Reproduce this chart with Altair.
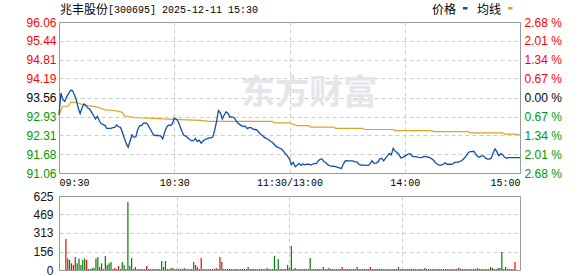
import altair as alt
import pandas as pd

# ---------------- data ----------------
minutes = list(range(241))
price = [
    92.98, 93.71, 93.49, 93.43, 93.59, 93.69, 93.80, 93.79, 93.65, 93.49,
    93.21, 93.03, 93.21, 93.35, 93.29, 93.21, 93.17, 93.07, 92.96, 92.85,
    92.94, 92.79, 92.69, 92.67, 92.63, 92.53, 92.54, 92.54, 92.56, 92.57,
    92.65, 92.59, 92.57, 92.41, 92.21, 92.04, 91.91, 92.12, 92.32, 92.24,
    92.26, 92.50, 92.63, 92.63, 92.71, 92.72, 92.69, 92.57, 92.46, 92.34,
    92.30, 92.31, 92.30, 92.28, 92.19, 92.41, 92.57, 92.65, 92.63, 92.69,
    92.87, 92.85, 92.77, 92.61, 92.44, 92.31, 92.28, 92.23, 92.17, 92.13,
    92.13, 92.20, 92.10, 92.15, 92.05, 92.12, 92.17, 92.19, 92.22, 92.22,
    92.25, 92.46, 92.76, 93.13, 93.05, 92.85, 92.98, 93.09, 93.03, 92.91,
    92.92, 92.90, 92.81, 92.72, 92.67, 92.63, 92.60, 92.61, 92.53, 92.56,
    92.56, 92.51, 92.50, 92.49, 92.41, 92.34, 92.29, 92.24, 92.20, 92.17,
    92.11, 92.08, 92.01, 91.94, 91.91, 91.88, 91.85, 91.77, 91.69, 91.62,
    91.52, 91.34, 91.41, 91.27, 91.32, 91.38, 91.31, 91.36, 91.33, 91.35,
    91.35, 91.32, 91.35, 91.38, 91.37, 91.46, 91.52, 91.52, 91.43, 91.40,
    91.33, 91.30, 91.28, 91.29, 91.27, 91.25, 91.23, 91.21, 91.35, 91.46,
    91.47, 91.46, 91.46, 91.46, 91.43, 91.43, 91.36, 91.32, 91.32, 91.32,
    91.31, 91.31, 91.37, 91.47, 91.38, 91.39, 91.42, 91.52, 91.55, 91.46,
    91.55, 91.63, 91.71, 91.66, 91.88, 91.78, 91.74, 91.67, 91.56, 91.58,
    91.62, 91.66, 91.69, 91.69, 91.61, 91.60, 91.60, 91.58, 91.57, 91.58,
    91.61, 91.60, 91.59, 91.57, 91.53, 91.48, 91.40, 91.35, 91.32, 91.32,
    91.35, 91.40, 91.35, 91.35, 91.35, 91.36, 91.41, 91.42, 91.42, 91.45,
    91.49, 91.55, 91.63, 91.73, 91.77, 91.77, 91.78, 91.68, 91.61, 91.58,
    91.63, 91.63, 91.56, 91.52, 91.52, 91.55, 91.72, 91.86, 91.76, 91.63,
    91.70, 91.66, 91.58, 91.55, 91.57, 91.57, 91.57, 91.57, 91.57, 91.57,
    91.57,
]
avg_t = [0, 1, 2, 5, 6, 9, 10, 12, 15, 19, 21, 24, 29, 33, 34, 36, 40, 50, 54,
         63, 74, 78, 111, 112, 120, 121, 124, 130, 131, 143, 144, 158, 159,
         174, 175, 194, 195, 213, 214, 231, 232, 238, 239, 240]
avg_v = [92.98, 93.13, 93.27, 93.27, 93.40, 93.40, 93.37, 93.33, 93.29, 93.26,
         93.22, 93.15, 93.13, 93.07, 92.96, 92.93, 92.89, 92.87, 92.85, 92.83,
         92.80, 92.77, 92.77, 92.72, 92.72, 92.69, 92.63, 92.63, 92.58, 92.58,
         92.54, 92.54, 92.50, 92.50, 92.46, 92.46, 92.43, 92.43, 92.39, 92.39,
         92.35, 92.35, 92.32, 92.32]
volume = [
    0, 262, 97, 85, 56, 42, 110, 56, 97, 42,
    85, 97, 85, 8, 8, 17, 17, 97, 110, 25,
    56, 8, 118, 42, 56, 68, 8, 17, 8, 34,
    8, 68, 42, 8, 575, 34, 101, 8, 25, 8,
    8, 8, 8, 8, 34, 8, 8, 8, 8, 8,
    8, 8, 76, 25, 76, 8, 8, 17, 17, 8,
    8, 8, 8, 8, 17, 8, 8, 8, 8, 68,
    42, 25, 8, 101, 8, 8, 8, 8, 8, 8,
    8, 17, 8, 110, 68, 8, 8, 8, 8, 8,
    8, 8, 8, 8, 8, 8, 8, 8, 25, 8,
    8, 8, 8, 8, 8, 8, 8, 8, 17, 8,
    8, 8, 118, 8, 93, 8, 8, 8, 8, 42,
    17, 203, 8, 17, 8, 8, 8, 8, 8, 8,
    8, 101, 8, 8, 8, 8, 8, 8, 25, 8,
    8, 17, 8, 8, 8, 8, 8, 8, 25, 8,
    8, 8, 8, 8, 8, 8, 25, 8, 8, 8,
    8, 8, 8, 25, 8, 8, 8, 8, 8, 8,
    8, 8, 8, 8, 8, 8, 8, 8, 25, 8,
    8, 8, 8, 8, 8, 8, 8, 8, 8, 8,
    8, 8, 17, 8, 8, 8, 8, 8, 8, 8,
    8, 8, 8, 8, 8, 8, 8, 8, 8, 8,
    17, 8, 8, 8, 8, 8, 8, 8, 8, 8,
    17, 8, 8, 8, 8, 8, 8, 25, 17, 8,
    8, 17, 17, 152, 8, 25, 8, 8, 8, 8,
    68,
]
price_ticks = [91.06, 91.68, 92.31, 92.93, 93.56, 94.19, 94.81, 95.44, 96.06]
pct_ticks = [-2.68, -2.01, -1.34, -0.67, 0.0, 0.67, 1.34, 2.01, 2.68]
vol_ticks = [0, 156, 313, 469, 625]
time_ticks = [0, 60, 120, 180, 240]
time_labels = ["09:30", "10:30", "11:30/13:00", "14:00", "15:00"]
prev_close = 93.56
stock_name = "兆丰股份"
stock_rest = "[300695] 2025-12-11 15:30"
legend_names = ["价格", "均线"]
watermark_text = "东方财富"

# ---------------- styles ----------------
BLUE = "#1050a8"
GOLD = "#dfa422"
RED = "#ff0000"
GREEN = "#009900"
GRID = "#cccccc"
W, H, VH = 461, 151, 74
SANS = "Liberation Sans"
MONO = "Liberation Mono"
CJK = "Noto Sans CJK SC"

direction = ["up"] + ["up" if price[i] >= price[i - 1] else "down" for i in range(1, len(price))]
df_price = pd.DataFrame({"t": minutes, "price": price})
df_avg = pd.DataFrame({"t": avg_t, "avg": avg_v})
df_vol = pd.DataFrame({"t": minutes, "vol": volume, "dir": direction})
df_pct = pd.DataFrame({"pct": pct_ticks})
one = pd.DataFrame({"k": [0]})

x_scale = alt.Scale(domain=[0, 240], nice=False, zero=False)
time_expr = " : ".join(
    f"datum.value == {v} ? '{lab}'" for v, lab in zip(time_ticks, time_labels)
) + " : ''"

time_axis = alt.Axis(
    values=time_ticks, labelExpr=time_expr, labelFlush=True, grid=True,
    gridDash=[4, 3], gridColor=GRID,
    gridOpacity=alt.condition("datum.value == 0 || datum.value == 240", alt.value(0), alt.value(1)),
    domain=False, ticks=False, labelPadding=4, labelFont=MONO, labelFontSize=10,
    labelColor="#000000", title=None,
)
price_axis = alt.Axis(
    values=price_ticks, format=".2f", grid=True, gridDash=[4, 3], gridColor=GRID,
    gridOpacity=alt.condition("datum.value < 91.1 || datum.value > 96.0", alt.value(0), alt.value(1)),
    domain=False, ticks=False, labelPadding=3, labelFont=SANS, labelFontSize=12,
    labelColor={"condition": [
        {"test": f"datum.value > {prev_close + 0.01}", "value": RED},
        {"test": f"datum.value < {prev_close - 0.01}", "value": GREEN}],
        "value": "#000000"},
    title=None,
)
pct_axis = alt.Axis(
    values=pct_ticks, orient="right", grid=False, domain=False, ticks=False,
    labelExpr="format(abs(datum.value), '.2f') + ' %'", labelPadding=4,
    labelFont=SANS, labelFontSize=12,
    labelColor={"condition": [
        {"test": "datum.value > 0.001", "value": RED},
        {"test": "datum.value < -0.001", "value": GREEN}],
        "value": "#000000"},
    title=None,
)
price_scale = alt.Scale(domain=[price_ticks[0], price_ticks[-1]], nice=False, zero=False)

watermark = alt.Chart(one).mark_text(
    text=watermark_text, font=CJK, fontSize=34, fontWeight="bold", color="#e6e6ea",
    align="center", baseline="middle",
).encode(x=alt.value(250), y=alt.value(72))

avg_line = alt.Chart(df_avg).mark_line(color=GOLD, strokeWidth=1.2).encode(
    x=alt.X("t:Q", scale=x_scale, axis=time_axis),
    y=alt.Y("avg:Q", scale=price_scale, axis=price_axis),
)
price_line = alt.Chart(df_price).mark_line(color=BLUE, strokeWidth=1.3).encode(
    x=alt.X("t:Q", scale=x_scale, axis=time_axis),
    y=alt.Y("price:Q", scale=price_scale, axis=price_axis),
)
price_layer = alt.layer(watermark, avg_line, price_line)

pct_layer = alt.Chart(df_pct).mark_point(opacity=0).encode(
    x=alt.value(0),
    y=alt.Y("pct:Q", scale=alt.Scale(domain=[-2.68, 2.68], nice=False, zero=False), axis=pct_axis),
)

title_cn = alt.Chart(one).mark_text(
    text=stock_name, font=CJK, fontSize=12, color="#000000", align="left", baseline="middle",
).encode(x=alt.value(1), y=alt.value(-12.5))
title_rest = alt.Chart(one).mark_text(
    text=stock_rest, font=MONO, fontSize=10, color="#000000", align="left", baseline="middle",
).encode(x=alt.value(49), y=alt.value(-12.5))
leg1 = alt.Chart(one).mark_text(
    text=legend_names[0], font=CJK, fontSize=12, color="#000000", align="left", baseline="middle",
).encode(x=alt.value(373), y=alt.value(-12.5))
leg1_sw = alt.Chart(one).mark_rect(color=BLUE).encode(
    x=alt.value(404), x2=alt.value(408.5), y=alt.value(-15), y2=alt.value(-12.5))
leg2 = alt.Chart(one).mark_text(
    text=legend_names[1], font=CJK, fontSize=12, color="#000000", align="left", baseline="middle",
).encode(x=alt.value(418), y=alt.value(-12.5))
leg2_sw = alt.Chart(one).mark_rect(color=GOLD).encode(
    x=alt.value(449), x2=alt.value(453.5), y=alt.value(-15), y2=alt.value(-12.5))

top = alt.layer(
    price_layer, pct_layer, title_cn, title_rest, leg1, leg1_sw, leg2, leg2_sw
).resolve_scale(y="independent").properties(width=W, height=H)

vol_time_axis = alt.Axis(
    values=[60, 120, 180], labels=False, grid=True, gridDash=[4, 3], gridColor=GRID,
    domain=False, ticks=False, title=None,
)
vol_axis = alt.Axis(
    values=vol_ticks, grid=True, gridDash=[4, 3], gridColor=GRID,
    gridOpacity=alt.condition("datum.value < 1 || datum.value > 620", alt.value(0), alt.value(1)),
    domain=False, ticks=False, labelPadding=6, labelFont=SANS, labelFontSize=12,
    labelColor="#111111", title=None,
)
bottom = alt.Chart(df_vol).mark_bar(size=1.2).encode(
    x=alt.X("t:Q", scale=x_scale, axis=vol_time_axis),
    y=alt.Y("vol:Q", scale=alt.Scale(domain=[0, 625], nice=False), axis=vol_axis),
    color=alt.Color("dir:N", scale=alt.Scale(domain=["up", "down"], range=[RED, "#008000"]), legend=None),
).properties(width=W, height=VH)

chart = alt.vconcat(top, bottom, spacing=1).properties(
    padding={"left": 25, "top": 3, "right": 5, "bottom": 0},
    background="#ffffff",
).configure_view(stroke="#999999", strokeWidth=1)

chart.save("out.html", embed_options={"renderer": "svg", "actions": False})
